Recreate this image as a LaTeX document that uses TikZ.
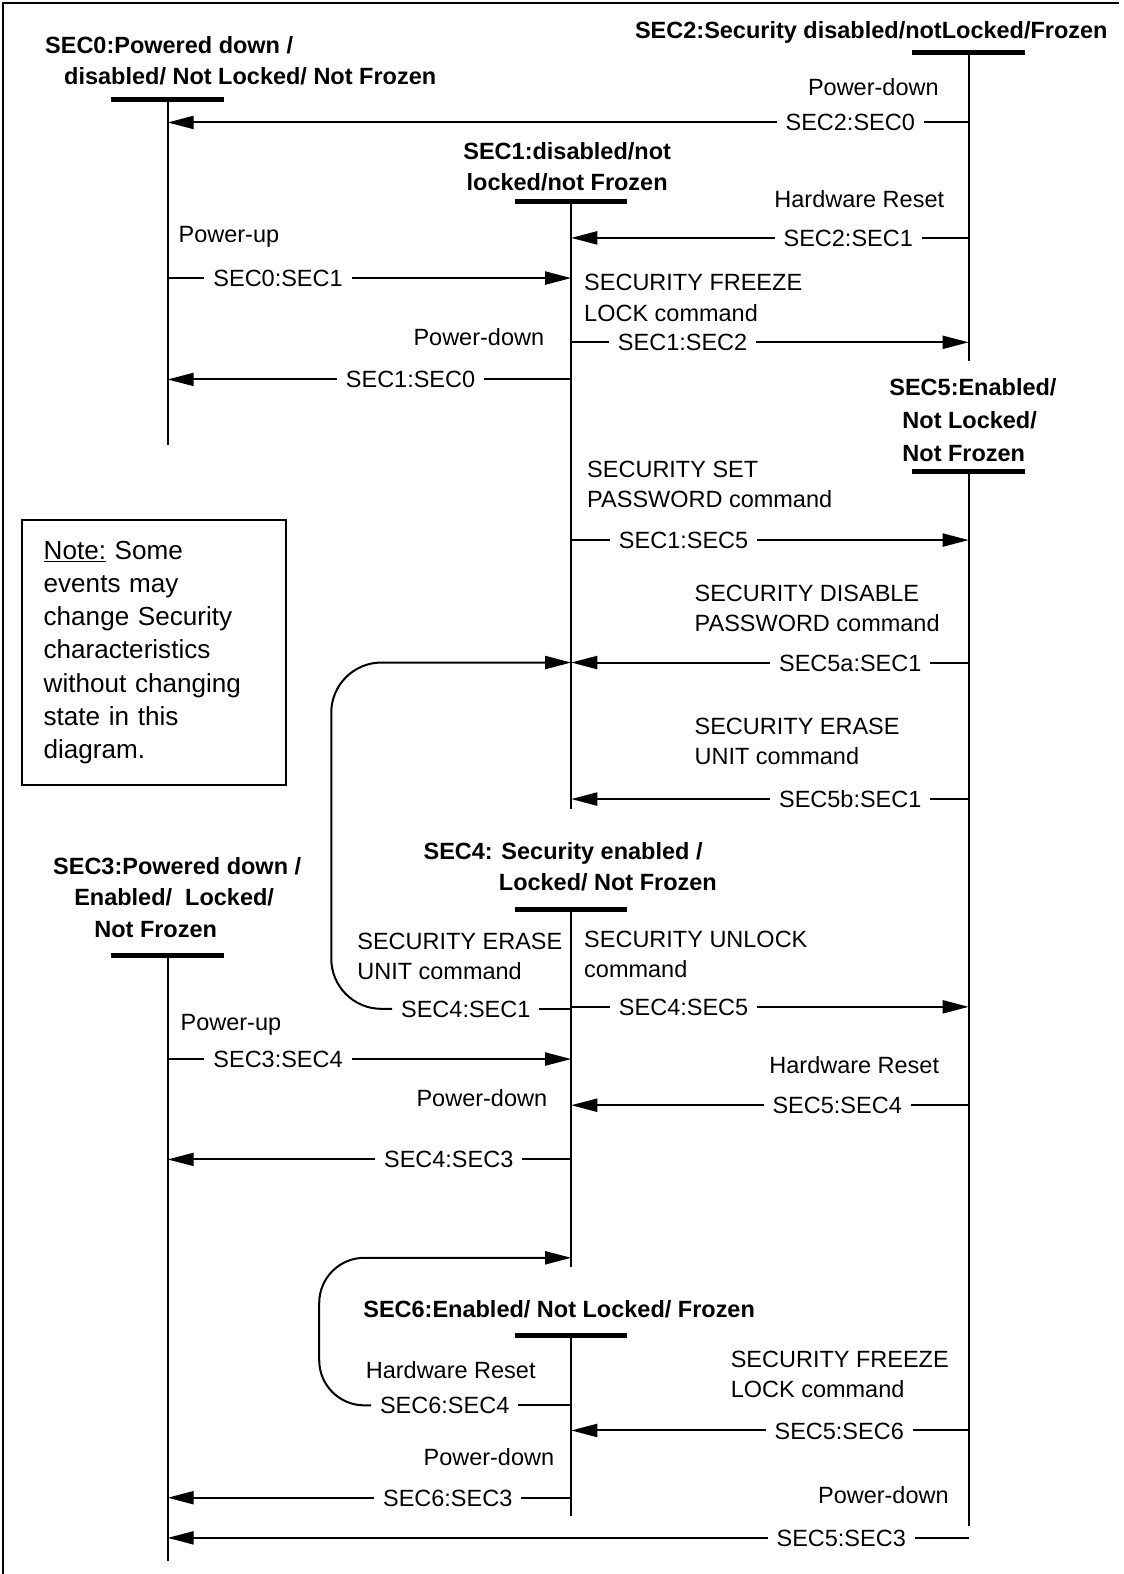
\documentclass[tikz,border=0pt]{standalone}
\usepackage{fontspec}
\setmainfont{Liberation Sans}
\usetikzlibrary{arrows.meta}
\newcommand{\lblfont}{\fontsize{23.4}{30}\selectfont}
\newcommand{\ttlfont}{\bfseries\fontsize{23.4}{31}\selectfont}
\newcommand{\notefont}{\fontsize{26}{33}\selectfont}

\begin{document}
\begin{tikzpicture}[x=1pt, y=-1pt, line width=2pt,
  life/.style = {line width=2.2pt},
  bar/.style = {line width=5pt},
  seg/.style = {line width=2pt},
  msg/.style = {line width=2pt, -{Triangle[length=26pt, width=13pt]}},
  lbl/.style = {font=\lblfont, inner ysep=0pt, inner xsep=8pt, text height=17pt, text depth=0pt},
  ann/.style = {font=\lblfont, inner sep=0pt, text height=17pt, text depth=0pt},
  annl/.style = {font=\lblfont, inner sep=0pt, align=left, anchor=north west},
  ttl/.style = {font=\ttlfont, inner sep=0pt, text height=17pt, text depth=0pt},
  ttll/.style = {font=\ttlfont, inner sep=0pt, align=left, anchor=north west},
  notebox/.style = {draw, font=\notefont, minimum width=263pt, minimum height=264pt, text width=220pt, align=left, inner sep=0pt}]
\useasboundingbox (0,0) rectangle (1119,1568);
\draw[life] (1115,3) -- (3,3) -- (3,1568);

% states
\node[ttll] (sec0) at (44,35.5) {SEC0:Powered down /\\\hspace*{19pt}disabled/ Not Locked/ Not Frozen};
\node[ttl, align=center, anchor=north, text height=, text depth=] (sec1) at (565,140.5) {SEC1:disabled/not\\locked/not Frozen};
\node[ttl] (sec2) at (868,30) {SEC2:Security disabled/notLocked/Frozen};
\node[ttll] (sec5) at (885,376.5) {SEC5:Enabled/\\[1.5pt]\hspace*{13pt}Not Locked/\\[1.5pt]\hspace*{13pt}Not Frozen};
\node[ttll] (sec4) at (421,838.5) {SEC4: Security enabled /\\\hspace*{75pt}Locked/ Not Frozen};
\node[ttll] (sec3) at (52,853.5) {SEC3:Powered down /\\\hspace*{21pt}Enabled/\ \ Locked/\\\hspace*{41pt}Not Frozen};
\node[ttl] (sec6) at (557,1304) {SEC6:Enabled/ Not Locked/ Frozen};

\coordinate (t0) at (167,99);   \coordinate (b0) at (167,443);
\coordinate (t1) at (569,201);  \coordinate (b1) at (569,806);
\coordinate (t2) at (965,52);   \coordinate (b2) at (965,360);
\coordinate (t3) at (167,952);  \coordinate (b3) at (167,1555);
\coordinate (t4) at (569,906);  \coordinate (b4) at (569,1262);
\coordinate (t5) at (965,470);  \coordinate (b5) at (965,1520);
\coordinate (t6) at (569,1330); \coordinate (b6) at (569,1510);
\coordinate (r4) at (569,1253);

\foreach \s in {0,...,6} {
  \draw[life] (t\s) -- (b\s);
  \draw[bar] ([xshift=-56pt]t\s) -- ([xshift=56pt]t\s);
}

% events
\node[ann] (a1) at (870,87) {Power-down};
\node[ann] (a2) at (856,198) {Hardware Reset};
\node[ann] (a3) at (228,233) {Power-up};
\node[annl] (a4) at (581,272.5) {SECURITY FREEZE\\LOCK command};
\node[ann] (a5) at (477,336) {Power-down};
\node[annl] (a6) at (584,458.5) {SECURITY SET\\PASSWORD command};
\node[annl] (a7) at (691,581.5) {SECURITY DISABLE\\PASSWORD command};
\node[annl] (a8) at (691,714.5) {SECURITY ERASE\\UNIT command};
\node[annl] (a9) at (355,928.5) {SECURITY ERASE\\UNIT command};
\node[annl] (a10) at (581,926.5) {SECURITY UNLOCK\\command};
\node[ann] (a11) at (230,1018) {Power-up};
\node[ann] (a12) at (851,1061) {Hardware Reset};
\node[ann] (a13) at (480,1094) {Power-down};
\node[ann] (a14) at (449,1365) {Hardware Reset};
\node[annl] (a15) at (727,1344.5) {SECURITY FREEZE\\LOCK command};
\node[ann] (a16) at (487,1451) {Power-down};
\node[ann] (a17) at (880,1489) {Power-down};

% transitions
\node[lbl] (m1) at (847,122) {SEC2:SEC0};
\node[lbl] (m2) at (845,237) {SEC2:SEC1};
\node[lbl] (m3) at (277,277) {SEC0:SEC1};
\node[lbl] (m4) at (680,341) {SEC1:SEC2};
\node[lbl] (m5) at (409,378) {SEC1:SEC0};
\node[lbl] (m6) at (681,538) {SEC1:SEC5};
\node[lbl] (m7) at (847,660) {SEC5a:SEC1};
\node[lbl] (m8) at (847,796) {SEC5b:SEC1};
\node[lbl] (m9) at (464,1005) {SEC4:SEC1};
\node[lbl] (m10) at (681,1003) {SEC4:SEC5};
\node[lbl] (m11) at (277,1055) {SEC3:SEC4};
\node[lbl] (m12) at (834,1101) {SEC5:SEC4};
\node[lbl] (m13) at (447,1155) {SEC4:SEC3};
\node[lbl] (m14) at (443,1400) {SEC6:SEC4};
\node[lbl] (m15) at (836,1425) {SEC5:SEC6};
\node[lbl] (m16) at (446,1492) {SEC6:SEC3};
\node[lbl] (m17) at (838,1532) {SEC5:SEC3};

\draw[seg] (m1 -| t2) -- (m1);   \draw[msg] (m1) -- (m1 -| t0);
\draw[seg] (m2 -| t2) -- (m2);   \draw[msg] (m2) -- (m2 -| t1);
\draw[seg] (m3 -| t0) -- (m3);   \draw[msg] (m3) -- (m3 -| t1);
\draw[seg] (m4 -| t1) -- (m4);   \draw[msg] (m4) -- (m4 -| t2);
\draw[seg] (m5 -| t1) -- (m5);   \draw[msg] (m5) -- (m5 -| t0);
\draw[seg] (m6 -| t1) -- (m6);   \draw[msg] (m6) -- (m6 -| t5);
\draw[seg] (m7 -| t5) -- (m7);   \draw[msg] (m7) -- (m7 -| t1);
\draw[seg] (m8 -| t5) -- (m8);   \draw[msg] (m8) -- (m8 -| t1);
\draw[seg] (m9 -| t4) -- (m9);
\draw[msg, rounded corners=50pt] (m9) -| (330,660) -- (m7 -| t1);
\draw[seg] (m10 -| t4) -- (m10); \draw[msg] (m10) -- (m10 -| t5);
\draw[seg] (m11 -| t3) -- (m11); \draw[msg] (m11) -- (m11 -| t4);
\draw[seg] (m12 -| t5) -- (m12); \draw[msg] (m12) -- (m12 -| t4);
\draw[seg] (m13 -| t4) -- (m13); \draw[msg] (m13) -- (m13 -| t3);
\draw[seg] (m14 -| t6) -- (m14);
\draw[msg, rounded corners=45pt] (m14) -| (318,1253) -- (r4);
\draw[seg] (m15 -| t5) -- (m15); \draw[msg] (m15) -- (m15 -| t6);
\draw[seg] (m16 -| t6) -- (m16); \draw[msg] (m16) -- (m16 -| t3);
\draw[seg] (m17 -| t5) -- (m17); \draw[msg] (m17) -- (m17 -| t3);

% note
\node[notebox] (note) at (153.5,650) {\underline{Note:} Some\\events may\\change Security\\characteristics\\without changing\\state in this\\diagram.};
\end{tikzpicture}
\end{document}
